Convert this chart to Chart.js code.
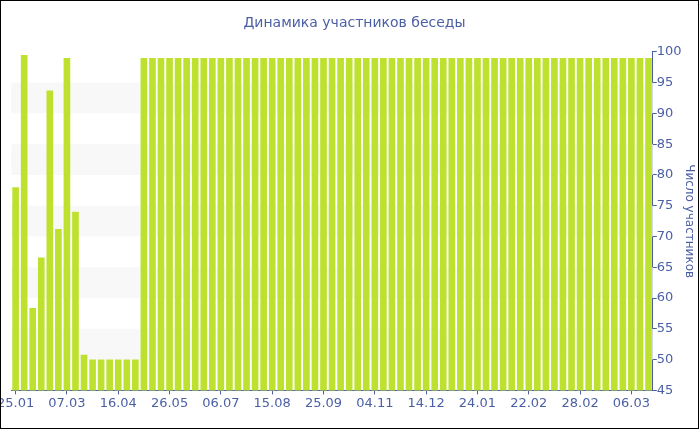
<!DOCTYPE html>
<html>
<head>
<meta charset="utf-8">
<script src="https://cdn.jsdelivr.net/npm/chart.js@4/dist/chart.umd.min.js"></script>
<style>
  body { margin: 0; background: #fff; }
  #wrap { position: absolute; left: 0; top: 0; width: 697px; height: 427px; border: 1px solid #000; overflow: hidden; }
  #holder { position: absolute; left: -5px; top: 0; }
</style>
</head>
<body>
<div id="wrap"><div id="holder"><canvas id="myChart" width="721" height="427"></canvas></div></div>
<script>
// dates of each snapshot (only every 6th is labeled on the axis)
const dates = [
  "25.01", "01.02", "08.02", "15.02", "22.02", "01.03",
  "07.03", "14.03", "21.03", "28.03", "04.04", "10.04",
  "16.04", "23.04", "30.04", "07.05", "14.05", "20.05",
  "26.05", "02.06", "09.06", "16.06", "23.06", "30.06",
  "06.07", "13.07", "20.07", "27.07", "03.08", "09.08",
  "15.08", "22.08", "29.08", "05.09", "12.09", "19.09",
  "25.09", "02.10", "09.10", "16.10", "23.10", "29.10",
  "04.11", "11.11", "18.11", "25.11", "02.12", "08.12",
  "14.12", "21.12", "28.12", "04.01", "11.01", "18.01",
  "24.01", "29.01", "03.02", "08.02", "13.02", "18.02",
  "22.02", "23.02", "24.02", "25.02", "26.02", "27.02",
  "28.02", "01.03", "02.03", "03.03", "04.03", "05.03",
  "06.03", "07.03", "08.03"
];

// number of members
const members = [
  78, 99.5, 58.4, 66.6, 93.7, 71.2, 99, 74, 50.8, 50, 50, 50, 50, 50, 50,
  99, 99, 99, 99, 99, 99, 99, 99, 99, 99, 99, 99, 99, 99, 99,
  99, 99, 99, 99, 99, 99, 99, 99, 99, 99, 99, 99, 99, 99, 99,
  99, 99, 99, 99, 99, 99, 99, 99, 99, 99, 99, 99, 99, 99, 99,
  99, 99, 99, 99, 99, 99, 99, 99, 99, 99, 99, 99, 99, 99, 99
];

// shaded value bands behind the bars
const bands = [[50, 55], [60, 65], [70, 75], [80, 85], [90, 95]];

const axisColor = "#4a5ea8";
const textColor = "#4b5fa5";
const labelEvery = 6;

const bandPlugin = {
  id: "bands",
  beforeDatasetsDraw(chart) {
    const { ctx, chartArea, scales } = chart;
    ctx.save();
    ctx.fillStyle = "#f8f8f8";
    bands.forEach(([lo, hi]) => {
      const yTop = scales.y.getPixelForValue(hi);
      const yBot = scales.y.getPixelForValue(lo);
      ctx.fillRect(chartArea.left, yTop, chartArea.right - chartArea.left, yBot - yTop);
    });
    ctx.restore();
  },
};

new Chart("myChart", {
  type: "bar",
  data: {
    labels: dates,
    datasets: [
      {
        data: members,
        backgroundColor: "#bee130",
        barPercentage: 0.78,
        categoryPercentage: 1,
      },
    ],
  },
  options: {
    responsive: false,
    animation: false,
    layout: { padding: { left: 0, right: 4, top: 0, bottom: 16 } },
    scales: {
      x: {
        grid: {
          drawOnChartArea: false,
          offset: false,
          tickLength: 4,
          color: (c) => (c.index % labelEvery === 0 ? axisColor : "transparent"),
        },
        border: { color: axisColor, width: 1 },
        ticks: {
          autoSkip: false,
          maxRotation: 0,
          padding: 1,
          color: textColor,
          font: { family: "DejaVu Sans", size: 13 },
          callback: (v, i) => (i % labelEvery === 0 ? dates[i] : ""),
        },
      },
      y: {
        position: "right",
        min: 45,
        max: 100,
        grid: { drawOnChartArea: false, tickLength: 4, color: axisColor },
        border: { color: axisColor, width: 1 },
        ticks: {
          stepSize: 5,
          padding: 0,
          color: textColor,
          font: { family: "DejaVu Sans", size: 13 },
        },
        title: {
          display: true,
          text: "Число участников",
          color: textColor,
          padding: { top: 17, bottom: 0 },
          font: { family: "DejaVu Sans", size: 12 },
        },
      },
    },
    plugins: {
      legend: { display: false },
      tooltip: { enabled: false },
      title: {
        display: true,
        text: "Динамика участников беседы",
        color: textColor,
        padding: { top: 14, bottom: 20 },
        font: { family: "DejaVu Sans", size: 14, weight: "normal" },
      },
    },
  },
  plugins: [bandPlugin],
});
</script>
</body>
</html>
